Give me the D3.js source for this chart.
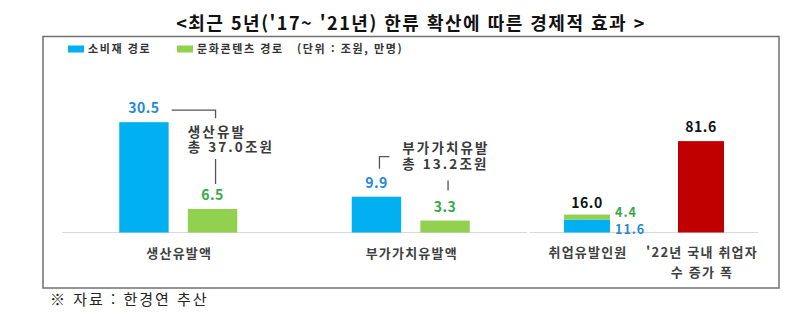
<!DOCTYPE html>
<html lang="ko">
<head>
<meta charset="utf-8">
<script src="https://cdn.jsdelivr.net/npm/d3@7"></script>
<style>
  html, body { margin: 0; padding: 0; background: #fff; }
  svg { display: block; font-family: "Noto Sans CJK KR", "Noto Sans", sans-serif; }
</style>
</head>
<body>
<svg id="chart" width="812" height="323"></svg>
<script>
// 생산·부가가치 유발 (조원)
const valueCategories = ["생산유발액", "부가가치유발액"];
const consumerValues = [30.5, 9.9];   // 소비재 경로
const contentValues = [6.5, 3.3];     // 문화콘텐츠 경로
const valueTotals = ["37.0", "13.2"];
const totalLabels = ["생산유발", "부가가치유발"];

// 취업 유발 (만명)
const jobCategories = ["취업유발인원", "'22년 국내 취업자 수 증가 폭"];
const jobConsumer = 11.6;
const jobContent = 4.4;
const jobTotal = 16.0;
const nationalJobGrowth = 81.6;

const seriesNames = ["소비재 경로", "문화콘텐츠 경로"];
const unitNote = "(단위 : 조원, 만명)";

const BLUE = "#00b0f0", GREEN = "#92d050", RED = "#c00000";
const BLUE_TXT = "#2689d4", GREEN_TXT = "#37a84a";

const svg = d3.select("#chart");

// title
svg.append("text")
  .attr("x", 411).attr("y", 30)
  .attr("text-anchor", "middle")
  .attr("font-size", 18).attr("font-weight", "bold").attr("fill", "#111")
  .attr("letter-spacing", 1.5)
  .text("<최근 5년('17~ '21년) 한류 확산에 따른 경제적 효과 >");

// frame
svg.append("rect")
  .attr("x", 43).attr("y", 36.5).attr("width", 736).attr("height", 251.5)
  .attr("fill", "none").attr("stroke", "#707070").attr("stroke-width", 1.5);

// legend
const legend = svg.append("g").attr("font-size", 11).attr("font-weight", "bold").attr("fill", "#333")
  .attr("letter-spacing", 1.6);
const legendItems = [{ name: seriesNames[0], color: BLUE, x: 68 }, { name: seriesNames[1], color: GREEN, x: 177 }];
legendItems.forEach(d => {
  legend.append("rect").attr("x", d.x).attr("y", 45.5).attr("width", 16).attr("height", 7).attr("fill", d.color);
  legend.append("text").attr("x", d.x + 20).attr("y", 53).text(d.name);
});
legend.append("text").attr("x", 297).attr("y", 53).text(unitNote);

// scales
const baseY = 232.5;
const xLeft = d3.scaleBand().domain(valueCategories).range([62, 527]).paddingInner(0).paddingOuter(0);
const xLeftSub = d3.scaleBand().domain(seriesNames).range([0, 118]).paddingInner(0.28).paddingOuter(0);
const yLeft = d3.scaleLinear().domain([0, 35]).range([baseY, baseY - 35 * 3.617]);

const xRight = d3.scaleBand().domain(jobCategories).range([530, 758]).paddingInner(0).paddingOuter(0);
const yRight = d3.scaleLinear().domain([0, 100]).range([baseY, baseY - 100 * 1.12]);
const rightBarW = 46;

// baselines
svg.append("line").attr("x1", 62).attr("x2", 527).attr("y1", baseY).attr("y2", baseY)
  .attr("stroke", "#d9d9d9").attr("stroke-width", 1.2);
svg.append("line").attr("x1", 530).attr("x2", 758).attr("y1", baseY).attr("y2", baseY)
  .attr("stroke", "#d9d9d9").attr("stroke-width", 1.2);

// left panel bars
const leftData = valueCategories.map((c, i) => ({ cat: c, vals: [consumerValues[i], contentValues[i]] }));
const leftG = svg.append("g");
leftData.forEach((d, i) => {
  const gx = xLeft(d.cat) + xLeft.bandwidth() / 2 - 59;
  d.vals.forEach((v, j) => {
    const x = gx + xLeftSub(seriesNames[j]);
    leftG.append("rect")
      .attr("x", x).attr("y", yLeft(v))
      .attr("width", xLeftSub.bandwidth()).attr("height", baseY - yLeft(v))
      .attr("fill", j === 0 ? BLUE : GREEN);
    leftG.append("text")
      .attr("x", x + xLeftSub.bandwidth() / 2).attr("y", yLeft(v) - 9)
      .attr("text-anchor", "middle")
      .attr("font-size", 14).attr("font-weight", "bold")
      .attr("fill", j === 0 ? BLUE_TXT : GREEN_TXT)
      .attr("letter-spacing", 0.5)
      .text(v.toFixed(1));
  });
});

// total annotations with bracket lines (two-line text blocks)
const ann = svg.append("g").attr("stroke", "#555").attr("stroke-width", 1.3).attr("fill", "none");
const annText = svg.append("g").attr("font-size", 13.5).attr("font-weight", "bold").attr("fill", "#3a3a3a")
  .attr("letter-spacing", 2.1);
function twoLine(x, y, lines, gap) {
  const t = annText.append("text").attr("x", x).attr("y", y);
  lines.forEach((s, i) => t.append("tspan").attr("x", x).attr("dy", i === 0 ? 0 : gap).text(s));
}
{
  // 생산유발 총합
  const bx = xLeft(valueCategories[0]) + xLeft.bandwidth() / 2 - 59;
  const blueRight = bx + xLeftSub(seriesNames[0]) + xLeftSub.bandwidth();
  const greenMid = bx + xLeftSub(seriesNames[1]) + xLeftSub.bandwidth() / 2 + 3;
  const ly = yLeft(consumerValues[0]) - 12;
  ann.append("path").attr("d", `M${blueRight + 3},${ly}H${greenMid}V${ly + 8}`);
  ann.append("path").attr("d", `M${greenMid},${yLeft(contentValues[0]) - 50}V${yLeft(contentValues[0]) - 25}`);
  const tx = bx + xLeftSub(seriesNames[1]);
  twoLine(tx, ly + 26.5, [totalLabels[0], `총 ${valueTotals[0]}조원`], 15);
}
{
  // 부가가치유발 총합
  const bx = xLeft(valueCategories[1]) + xLeft.bandwidth() / 2 - 59;
  const blueMid = bx + xLeftSub(seriesNames[0]) + xLeftSub.bandwidth() / 2 + 3;
  const greenMid = bx + xLeftSub(seriesNames[1]) + xLeftSub.bandwidth() / 2 + 3;
  const ty = yLeft(consumerValues[1]) - 40;
  ann.append("path").attr("d", `M${blueMid},${ty + 12}V${ty}H${blueMid + 10}`);
  ann.append("path").attr("d", `M${greenMid},${yLeft(contentValues[1]) - 40}V${yLeft(contentValues[1]) - 30}`);
  const tx = bx + xLeftSub(seriesNames[1]) - 18;
  twoLine(tx, ty - 3.5, [totalLabels[1], `총 ${valueTotals[1]}조원`], 15.5);
}

// right panel: stacked job bar
const rightG = svg.append("g");
const jx = xRight(jobCategories[0]) + xRight.bandwidth() / 2 - rightBarW / 2;
const stack = [
  { v0: 0, v1: jobConsumer, color: BLUE },
  { v0: jobConsumer, v1: jobConsumer + jobContent, color: GREEN }
];
stack.forEach(s => {
  rightG.append("rect")
    .attr("x", jx).attr("y", yRight(s.v1))
    .attr("width", rightBarW).attr("height", yRight(s.v0) - yRight(s.v1))
    .attr("fill", s.color);
});
rightG.append("text")
  .attr("x", jx + rightBarW / 2).attr("y", yRight(jobTotal) - 7)
  .attr("text-anchor", "middle").attr("font-size", 14).attr("font-weight", "bold").attr("fill", "#111")
  .attr("letter-spacing", 0.5)
  .text(jobTotal.toFixed(1));
// segment values beside the stacked bar
const segText = rightG.append("text")
  .attr("font-size", 12.5).attr("font-weight", "bold").attr("letter-spacing", 1);
segText.append("tspan")
  .attr("x", jx + rightBarW + 5).attr("y", yRight(jobTotal) + 2.5)
  .attr("fill", GREEN_TXT).text(jobContent.toFixed(1));
segText.append("tspan")
  .attr("x", jx + rightBarW + 5).attr("y", yRight(0) + 1.5)
  .attr("fill", BLUE_TXT).text(jobConsumer.toFixed(1));

// national employment growth bar
const rx = xRight(jobCategories[1]) + xRight.bandwidth() / 2 - rightBarW / 2;
rightG.append("rect")
  .attr("x", rx).attr("y", yRight(nationalJobGrowth))
  .attr("width", rightBarW).attr("height", baseY - yRight(nationalJobGrowth))
  .attr("fill", RED);
rightG.append("text")
  .attr("x", rx + rightBarW / 2).attr("y", yRight(nationalJobGrowth) - 9)
  .attr("text-anchor", "middle").attr("font-size", 14).attr("font-weight", "bold").attr("fill", "#111")
  .attr("letter-spacing", 0.5)
  .text(nationalJobGrowth.toFixed(1));

// category labels
const catG = svg.append("g").attr("font-size", 13).attr("font-weight", "bold").attr("fill", "#3f3f3f")
  .attr("text-anchor", "middle").attr("letter-spacing", 1.2);
valueCategories.forEach(c => {
  catG.append("text").attr("x", xLeft(c) + xLeft.bandwidth() / 2 + 1).attr("y", 258).text(c);
});
catG.append("text").attr("x", xRight(jobCategories[0]) + xRight.bandwidth() / 2 + 1).attr("y", 257).text(jobCategories[0]);
const lastLines = ["'22년 국내 취업자", "수 증가 폭"];
const lastText = catG.append("text").attr("y", 257);
lastLines.forEach((t, i) => {
  lastText.append("tspan").attr("x", xRight(jobCategories[1]) + xRight.bandwidth() / 2 + 1)
    .attr("dy", i === 0 ? 0 : 20).text(t);
});

// source note
svg.append("text")
  .attr("x", 50).attr("y", 305)
  .attr("font-size", 15).attr("fill", "#222")
  .attr("letter-spacing", 2)
  .text("※ 자료 : 한경연 추산");
</script>
</body>
</html>
